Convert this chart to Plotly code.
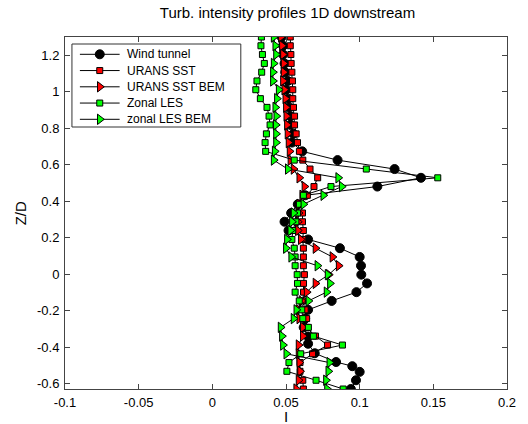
import plotly.graph_objects as go

# Height stations (Z/D) of the CFD profiles
z_cfd = [1.300, 1.252, 1.204, 1.155, 1.107, 1.059, 1.011, 0.962, 0.914, 0.866,
         0.818, 0.769, 0.721, 0.673, 0.625, 0.576, 0.528, 0.480, 0.432, 0.383,
         0.335, 0.287, 0.239, 0.190, 0.142, 0.094, 0.046, -0.003, -0.051, -0.099,
         -0.147, -0.196, -0.244, -0.292, -0.340, -0.389, -0.437, -0.485, -0.533,
         -0.582, -0.630]

# Height stations of the wind tunnel measurements
z_wt = [1.300, 1.252, 1.204, 1.155, 1.107, 1.059, 1.011, 0.962, 0.914, 0.866,
        0.818, 0.769, 0.721, 0.673, 0.625, 0.576, 0.528, 0.480, 0.432, 0.383,
        0.335, 0.287, 0.239, 0.190, 0.142, 0.094, 0.046, -0.003, -0.051, -0.099,
        -0.147, -0.196, -0.244, -0.292, -0.342, -0.382, -0.434, -0.482, -0.505,
        -0.536, -0.582, -0.630]

# Turbulence intensity values
i_wind_tunnel = [0.047, 0.048, 0.048, 0.049, 0.0495, 0.0512, 0.050, 0.0517, 0.052, 0.053,
                 0.053, 0.055, 0.054, 0.061, 0.085, 0.1237, 0.1416, 0.112, 0.063, 0.058,
                 0.0535, 0.049, 0.0517, 0.065, 0.0866, 0.100, 0.1009, 0.1011, 0.105, 0.0978,
                 0.081, 0.065, 0.063, 0.062, 0.065, 0.065, 0.0695, 0.084, 0.095, 0.100,
                 0.0975, 0.094]

i_urans_sst = [0.0529, 0.0529, 0.0533, 0.0535, 0.054, 0.0544, 0.0546, 0.0546, 0.0551, 0.0558,
               0.0558, 0.0569, 0.0578, 0.0591, 0.0614, 0.0663, 0.0715, 0.069, 0.0645, 0.060,
               0.0612, 0.0612, 0.0618, 0.0614, 0.0618, 0.0618, 0.0618, 0.0625, 0.0619, 0.0619,
               0.0614, 0.063, 0.064, 0.064, 0.070, 0.0782, 0.068, 0.0595, 0.0595, 0.0614,
               0.0618]

i_urans_sst_bem = [0.0465, 0.0472, 0.0479, 0.0483, 0.0483, 0.0479, 0.0488, 0.0495, 0.0499, 0.0502,
                   0.0506, 0.051, 0.0517, 0.0524, 0.053, 0.0551, 0.059, 0.0625, 0.061, 0.059,
                   0.0585, 0.058, 0.058, 0.060, 0.070, 0.0815, 0.0857, 0.079, 0.070, 0.064,
                   0.0605, 0.0585, 0.059, 0.0614, 0.0614, 0.0585, 0.0585, 0.059, 0.0595, 0.0585,
                   0.0569]

i_zonal_les = [0.0333, 0.033, 0.034, 0.0353, 0.0335, 0.0303, 0.0295, 0.0326, 0.0371, 0.0385,
               0.0392, 0.0367, 0.0358, 0.0362, 0.0556, 0.1045, 0.153, 0.0805, 0.0618, 0.0591,
               0.0578, 0.0567, 0.0546, 0.054, 0.0556, 0.0562, 0.0562, 0.0576, 0.0578, 0.0562,
               0.059, 0.0607, 0.0614, 0.0652, 0.0686, 0.0883, 0.060, 0.052, 0.0506, 0.0704,
               0.0888]

i_zonal_les_bem = [0.0416, 0.0427, 0.0432, 0.0416, 0.0411, 0.0411, 0.045, 0.0438, 0.0427, 0.0434,
                   0.043, 0.0432, 0.0432, 0.0423, 0.0416, 0.0512, 0.0854, 0.0878, 0.0753, 0.0618,
                   0.0551, 0.054, 0.0529, 0.0506, 0.0499, 0.0535, 0.0713, 0.0782, 0.0798, 0.0775,
                   0.0652, 0.057, 0.0551, 0.0463, 0.0472, 0.0479, 0.0502, 0.0794, 0.0787, 0.0771,
                   0.0778]

x_ticks = [-0.1, -0.05, 0, 0.05, 0.1, 0.15, 0.2]
x_tick_text = ["-0.1", "-0.05", "0", "0.05", "0.1", "0.15", "0.2"]
y_ticks = [-0.6, -0.4, -0.2, 0, 0.2, 0.4, 0.6, 0.8, 1.0, 1.2]
y_tick_text = ["-0.6", "-0.4", "-0.2", "0", "0.2", "0.4", "0.6", "0.8", "1", "1.2"]

FONT = "Liberation Sans, Arial, sans-serif"
W, H = 528, 424
M_L, M_R, M_T, M_B = 65, 18, 37, 35
PW, PH = W - M_L - M_R, H - M_T - M_B

series = [
    ("Wind tunnel", i_wind_tunnel, z_wt, "circle", "black", 9),
    ("URANS SST", i_urans_sst, z_cfd, "square", "#ff0000", 6),
    ("URANS SST BEM", i_urans_sst_bem, z_cfd, "triangle-right", "#ff0000", 9),
    ("Zonal LES", i_zonal_les, z_cfd, "square", "#00ff00", 6),
    ("zonal LES BEM", i_zonal_les_bem, z_cfd, "triangle-right", "#00ff00", 9),
]

fig = go.Figure()
for name, xi, zi, sym, col, size in series:
    fig.add_trace(go.Scatter(
        x=xi, y=zi, name=name, mode="lines+markers", showlegend=False,
        line=dict(color="black", width=1),
        marker=dict(symbol=sym, color=col, size=size,
                    line=dict(color="black", width=1)),
    ))

# Boxed legend drawn on a pixel-unit overlay axis (origin at plot top-left)
LEG_X0, LEG_X1, LEG_Y0, LEG_Y1 = 7, 177, 7, 90
ROW0, ROW_STEP = 17.3, 16.25
SAMPLE_X0, SAMPLE_X1, TEXT_X = 15, 55, 60.5
fig.add_shape(type="rect", xref="x2", yref="y2",
              x0=LEG_X0, x1=LEG_X1, y0=LEG_Y0, y1=LEG_Y1,
              line=dict(color="#333333", width=1), fillcolor="white", layer="below")
for k, (name, _, _, sym, col, size) in enumerate(series):
    ry = ROW0 + k * ROW_STEP
    fig.add_trace(go.Scatter(
        x=[SAMPLE_X0, SAMPLE_X1], y=[ry, ry], xaxis="x2", yaxis="y2",
        mode="lines", line=dict(color="black", width=1),
        showlegend=False, hoverinfo="skip"))
    fig.add_trace(go.Scatter(
        x=[(SAMPLE_X0 + SAMPLE_X1) / 2], y=[ry], xaxis="x2", yaxis="y2",
        mode="markers", showlegend=False, hoverinfo="skip",
        marker=dict(symbol=sym, color=col, size=size,
                    line=dict(color="black", width=1))))
    fig.add_annotation(x=TEXT_X, y=ry, xref="x2", yref="y2", text=name,
                       showarrow=False, xanchor="left", yanchor="middle",
                       font=dict(family=FONT, size=12, color="black"))

axis_common = dict(
    showline=True, linecolor="#444444", linewidth=1, mirror="ticks",
    ticks="inside", ticklen=5, tickcolor="#444444", showgrid=False,
    zeroline=False, tickfont=dict(family=FONT, size=13, color="black"),
)

fig.update_layout(
    width=W, height=H,
    margin=dict(l=M_L, r=M_R, t=M_T, b=M_B),
    paper_bgcolor="white", plot_bgcolor="white",
    font=dict(family=FONT, size=13, color="black"),
    title=dict(text="Turb. intensity profiles 1D downstream",
               x=(M_L + PW / 2) / W, xanchor="center",
               y=1 - 13 / H, yanchor="middle", yref="container",
               font=dict(family=FONT, size=15, color="black")),
    xaxis=dict(range=[-0.1, 0.2], tickvals=x_ticks, ticktext=x_tick_text,
               ticklabelstandoff=1, **axis_common),
    yaxis=dict(range=[-0.63, 1.3], tickvals=y_ticks, ticktext=y_tick_text,
               ticklabelstandoff=2, **axis_common),
    xaxis2=dict(range=[0, PW], overlaying="x", visible=False, fixedrange=True),
    yaxis2=dict(range=[PH, 0], overlaying="y", visible=False, fixedrange=True),
    showlegend=False,
)

# Axis titles
fig.add_annotation(text="I", xref="paper", yref="paper",
                   x=0.5, y=-(416 - (H - M_B)) / PH, showarrow=False,
                   xanchor="center", yanchor="middle",
                   font=dict(family=FONT, size=15, color="black"))
fig.add_annotation(text="Z/D", xref="paper", yref="paper",
                   x=(20 - M_L) / PW, y=0.5, textangle=-90, showarrow=False,
                   xanchor="center", yanchor="middle",
                   font=dict(family=FONT, size=15, color="black"))

fig.write_html("out.html")
